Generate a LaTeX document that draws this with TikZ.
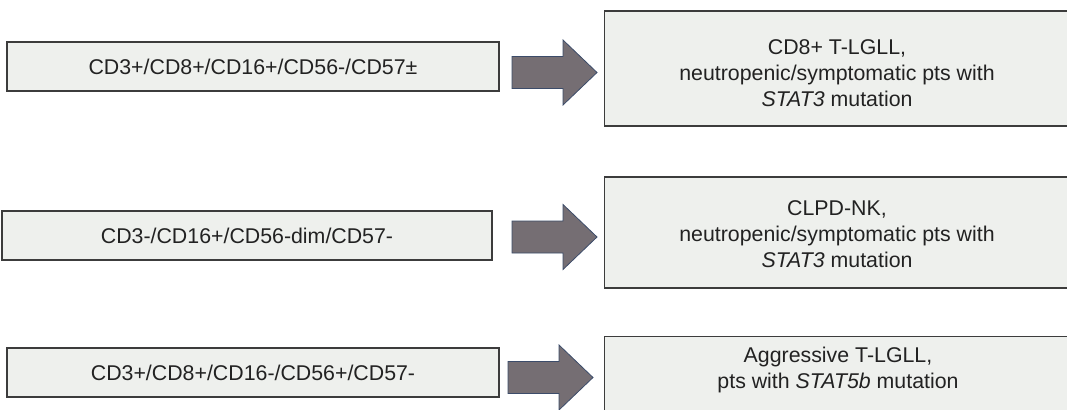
\documentclass[tikz,border=0pt]{standalone}
\usepackage{fontspec}
\setmainfont{Liberation Sans}
\usetikzlibrary{positioning}
\definecolor{boxfill}{RGB}{238,240,237}
\definecolor{boxline}{RGB}{60,60,60}
\definecolor{arrfill}{RGB}{117,110,115}
\definecolor{arrline}{RGB}{60,76,106}
\definecolor{ink}{RGB}{34,34,34}
\tikzset{
    pheno/.style={draw=boxline, fill=boxfill, line width=1pt, minimum height=36.75pt, inner sep=0pt, text=ink, font=\fontsize{16}{19.5}\selectfont},
    diag/.style={draw=boxline, fill=boxfill, line width=1pt, minimum width=350pt, inner sep=0pt},
    lbl/.style={text=ink, align=center, font=\fontsize{16}{19.5}\selectfont},
    bigarrow/.style={draw=arrline, fill=arrfill, line width=0.6pt, line join=miter}
}
\begin{document}
\begin{tikzpicture}[x=0.75pt,y=-0.75pt]
        \useasboundingbox (0,0) rectangle (1067,410);
        \clip (0,0) rectangle (1067,410);
        % phenotype
        \node [pheno, minimum width=369pt] (pheno1) at (253,66.5) {CD3+/CD8+/CD16+/CD56-/CD57±};
        \node [pheno, minimum width=367.5pt] (pheno2) at (247,235.5) {CD3-/CD16+/CD56-dim/CD57-};
        \node [pheno, minimum width=369pt] (pheno3) at (253,372.5) {CD3+/CD8+/CD16-/CD56+/CD57-};
        % diagnosis
        \node [diag, minimum height=86.25pt] (diag1) at (837.5,68.5) {};
        \node [diag, minimum height=83.25pt] (diag2) at (838,232.5) {};
        \node [diag, minimum height=80pt] (diag3) at (837.5,390) {};
        \node [lbl] (dtext1) at (837,73) {CD8+ T-LGLL,\\neutropenic/symptomatic pts with\\\textit{STAT3} mutation};
        \node [lbl] (dtext2) at (837,234) {CLPD-NK,\\neutropenic/symptomatic pts with\\\textit{STAT3} mutation};
        \node [lbl] (dtext3) at (838,370) {Aggressive T-LGLL,\\pts with \textit{STAT5b} mutation};
        % arrows
        \foreach \x/\y in {512/72.5,512/237,508/377.5}
            \draw [bigarrow] (\x,\y-16) -- (\x+51,\y-16) -- (\x+51,\y-32.5) -- (\x+85,\y) -- (\x+51,\y+32.5) -- (\x+51,\y+16) -- (\x,\y+16) -- cycle;
    \end{tikzpicture}
\end{document}
